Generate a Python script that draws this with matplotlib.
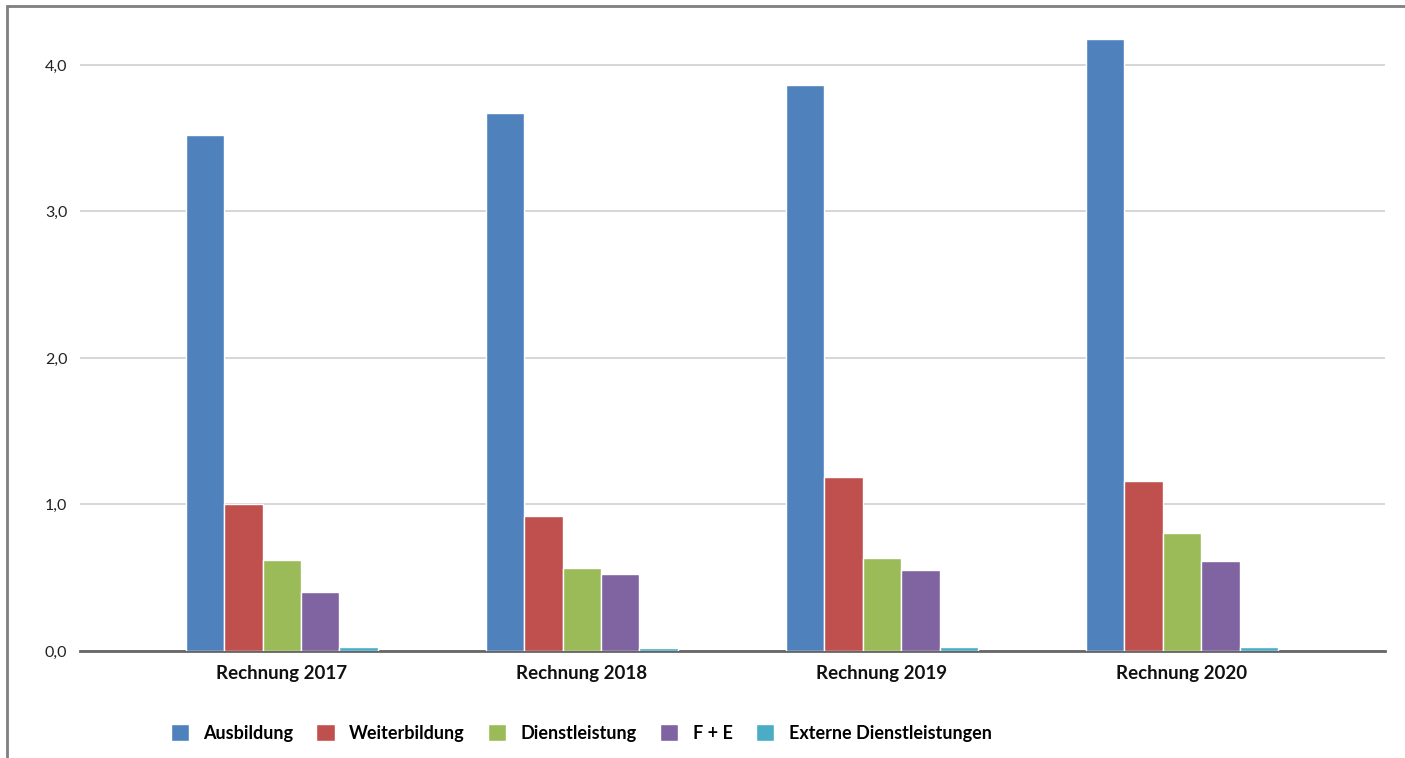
import matplotlib.pyplot as plt
import numpy as np
from matplotlib.patches import Rectangle
from matplotlib.ticker import FuncFormatter

plt.rcParams['font.family'] = ['Lato', 'DejaVu Sans']

jahre = ['Rechnung 2017', 'Rechnung 2018', 'Rechnung 2019', 'Rechnung 2020']
serien = ['Ausbildung', 'Weiterbildung', 'Dienstleistung', 'F + E', 'Externe Dienstleistungen']
ausbildung = [3.52, 3.67, 3.86, 4.18]
weiterbildung = [1.00, 0.92, 1.185, 1.16]
dienstleistung = [0.62, 0.565, 0.635, 0.805]
f_und_e = [0.405, 0.525, 0.55, 0.615]
extern = [0.027, 0.022, 0.027, 0.027]
farben = ['#4F81BD', '#C0504D', '#9BBB59', '#8064A2', '#4BACC6']

werte = [ausbildung, weiterbildung, dienstleistung, f_und_e, extern]

fig = plt.figure(figsize=(14.05, 7.58), dpi=100)
ax = fig.add_axes([0.0569, 0.1412, 0.9289, 0.8311])

x = np.arange(len(jahre))
step = 0.128
for i, (name, v, c) in enumerate(zip(serien, werte, farben)):
    ax.bar(x + (i - 2) * step, v, width=step, color=c, edgecolor='white',
           linewidth=1.0, label=name, zorder=5)

ax.set_xlim(-0.673, 3.677)
ax.set_ylim(0, 4.3)
ax.set_yticks([0, 1, 2, 3, 4])
ax.yaxis.set_major_formatter(FuncFormatter(lambda v, p: f'{v:.1f}'.replace('.', ',')))
ax.grid(axis='y', color='#d0d0d0', linewidth=1.2, zorder=0)
ax.set_xticks(x)
ax.set_xticklabels(jahre, fontsize=13.5, fontweight='bold', color='#111111')
ax.tick_params(axis='y', length=0, pad=9, labelsize=11.5, labelcolor='#222222')
ax.tick_params(axis='x', length=0, pad=10)
for s in ['top', 'right', 'left']:
    ax.spines[s].set_visible(False)
ax.spines['bottom'].set_color('#666666')
ax.spines['bottom'].set_linewidth(2)
ax.spines['bottom'].set_zorder(4)

fig.legend(loc='center', bbox_to_anchor=(0.4135, 0.033), ncol=5, frameon=False,
           handlelength=1.0, handleheight=1.0, columnspacing=1.3,
           handletextpad=0.8, prop={'weight': 'bold', 'size': 13})

fig.patches.append(Rectangle((7 / 1405, -0.05), 1.2, 1.05 - 6 / 758,
                             transform=fig.transFigure, fill=False,
                             edgecolor='#7f7f7f', linewidth=2, figure=fig))

fig.savefig('out.png', dpi=100)
